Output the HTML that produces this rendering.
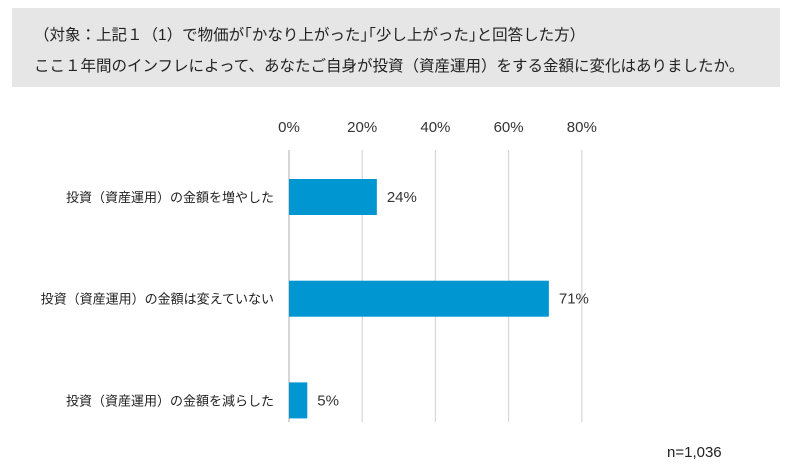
<!DOCTYPE html>
<html><head><meta charset="utf-8"><style>
body{margin:0;background:#fff;width:797px;height:468px;overflow:hidden;font-family:"Liberation Sans","Noto Sans CJK JP",sans-serif;}
#hdr{position:absolute;left:12px;top:8px;width:768px;height:79px;background:#e6e6e6;}
.ht{position:absolute;left:22px;font-size:15.5px;color:#222;white-space:nowrap;}
</style></head><body>
<div id="hdr">
<div class="ht" style="top:15px">（対象：上記１（1）で物価が｢かなり上がった｣｢少し上がった｣と回答した方）</div>
<div class="ht" style="top:46px">ここ１年間のインフレによって、あなたご自身が投資（資産運用）をする金額に変化はありましたか。</div>
</div>
<svg id="chart" width="797" height="468" style="position:absolute;left:0;top:0"></svg>
<div style="position:absolute;left:667px;top:444px;font-size:15px;color:#222">n=1,036</div>
<script>
const categories=["投資（資産運用）の金額を増やした","投資（資産運用）の金額は変えていない","投資（資産運用）の金額を減らした"];
const values=[24,71,5];
const ticks=[0,20,40,60,80];
const svg=document.getElementById('chart');
const NS='http://www.w3.org/2000/svg';
const x=v=>289+v*3.66;
const y=i=>197+i*101.7;
function mk(t,a){const e=document.createElementNS(NS,t);for(const k in a)e.setAttribute(k,a[k]);svg.appendChild(e);return e;}
ticks.forEach(t=>{
 const l=mk('line',{x1:x(t),x2:x(t),y1:150,y2:422,stroke:t===0?'#bfbfbf':'#d9d9d9','stroke-width':1.3});
 
 
 const tx=mk('text',{x:x(t),y:132,'text-anchor':'middle','font-size':15,fill:'#333'});
 tx.textContent=t+'%';
 
 
});
categories.forEach((c,i)=>{
 const r=mk('rect',{x:x(0),y:y(i)-18,width:x(values[i])-x(0),height:36,fill:'#0096d2'});
 
 
 const v=mk('text',{x:x(values[i])+10,y:y(i)+5,'font-size':15,fill:'#333'});
 v.textContent=values[i]+'%';
 
 
 const l=mk('text',{x:274,y:y(i)+5,'text-anchor':'end','font-size':13,fill:'#222'});
 l.textContent=c;
 
 
});
</script>
</body></html>
